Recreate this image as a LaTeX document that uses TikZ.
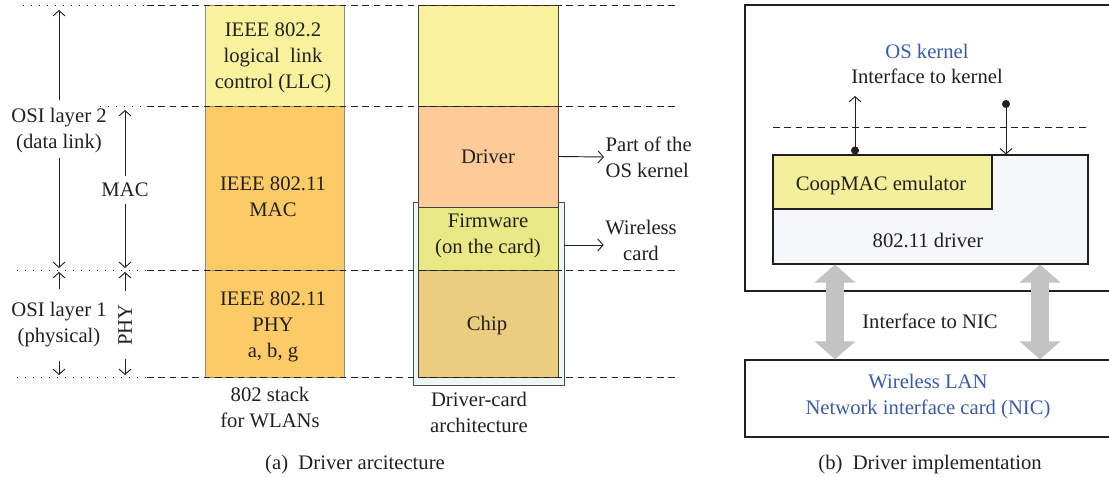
\documentclass[tikz,border=0pt]{standalone}
\usepackage{fontspec}
\setmainfont{Liberation Serif}
\usetikzlibrary{arrows.meta}
\definecolor{ink}{HTML}{231F20}
\definecolor{llcfill}{HTML}{F7F29B}
\definecolor{macfill}{HTML}{FDCB66}
\definecolor{drvpeach}{HTML}{FDCA98}
\definecolor{fwfill}{HTML}{E8E985}
\definecolor{chipfill}{HTML}{EBCD80}
\definecolor{cardfill}{HTML}{EEF5F6}
\definecolor{coopfill}{HTML}{F3EF9B}
\definecolor{drvfill}{HTML}{F6F7FA}
\definecolor{nicarrow}{HTML}{C3C3C3}
\definecolor{hiblue}{HTML}{3B5BA9}
\begin{document}
\begin{tikzpicture}[x=0.75pt,y=-0.75pt,
  every node/.style={font=\fontsize{15.5}{19.5}\selectfont, text=ink, align=center},
  % box size given in pixels: size={width}{height}
  size/.style 2 args={minimum width=#1*0.75pt, minimum height=#2*0.75pt, inner sep=0pt},
  stackbox/.style={draw=black!45, line width=0.6pt},
  colbox/.style={draw=black!75, line width=0.6pt},
  panel/.style={draw=ink, line width=1pt},
  dotline/.style={ink, line width=0.7pt, dash pattern=on 0.7pt off 5.3pt},
  dashline/.style={ink, line width=0.7pt, dash pattern=on 5pt off 3.5pt},
  arr/.style={ink, line width=0.7pt, -{Straight Barb[length=4pt,width=9pt]}},
  dotarr/.style={ink, line width=0.7pt, {Circle[length=6pt]}-{Straight Barb[length=4pt,width=9pt]}},
  nicarr/.style={nicarrow, line width=13.5pt,
    {Triangle[length=13.5pt,width=30pt]}-{Triangle[length=13.5pt,width=30pt]}},
  label/.style={inner sep=1pt}]
\useasboundingbox (0,0) rectangle (1109,477);
\clip (0,0) rectangle (1109,477);

% ---------- (a) 802 stack for WLANs ----------
\node[stackbox, fill=llcfill, size={139}{101}] (llc) at (274.5,55.5) {};
\node[stackbox, fill=macfill, size={139}{164}] (mac) at (274.5,188) {};
\node[stackbox, fill=macfill, size={139}{107}] (phy) at (274.5,323.5) {};
\node[label] (llctext) at (273,58) {IEEE 802.2\\logical\ \ link\\control (LLC)};
\node[label] (mactext) at (273,197) {IEEE 802.11\\MAC};
\node[label] (phytext) at (273,327) {IEEE 802.11\\PHY\\a, b, g};

% ---------- (a) driver-card architecture ----------
\node[draw=black!70, line width=0.7pt, fill=cardfill, size={151}{183}] (card) at (488.5,293.5) {};
\node[colbox, fill=llcfill, size={140}{101}] (top) at (488,55.5) {};
\node[colbox, fill=drvpeach, size={140}{101}] (driver) at (488,156.5) {};
\node[colbox, fill=fwfill, size={140}{63}] (fw) at (488,238.5) {};
\node[colbox, fill=chipfill, size={140}{107}] (chip) at (488,323.5) {};
\node[label] (drivertext) at (488,157) {Driver};
\node[label] (fwtext) at (488,236) {Firmware\\(on the card)};
\node[label] (chiptext) at (487,326) {Chip};

% layer boundaries
\draw[dotline] (23,5) -- (147,5);      \draw[dashline] (147,5) -- (677,5);
\draw[dotline] (100,106) -- (147,106); \draw[dashline] (147,106) -- (677,106);
\draw[dotline] (17,270) -- (147,270);  \draw[dashline] (147,270) -- (677,270);
\draw[dotline] (17,377) -- (147,377);  \draw[dashline] (147,377) -- (677,377);

% OSI layer spans
\node[label] (osi2) at (59,131) {OSI layer 2\\(data link)};
\node[label] (osi1) at (59,325) {OSI layer 1\\(physical)};
\node[label] (macl) at (125,190) {MAC};
\node[label, rotate=90] (phyl) at (125,325) {PHY};
\coordinate (o2t) at (59,10);
\coordinate (o2b) at (59,268);
\coordinate (o1t) at (59,272);
\coordinate (o1b) at (59,375);
\coordinate (mt) at (125,110);
\coordinate (mb) at (125,268);
\coordinate (pt) at (125,272);
\coordinate (pb) at (125,375);
\draw[arr] ([yshift=5pt]osi2.north) -- (o2t);
\draw[arr] ([yshift=-2pt]osi2.south) -- (o2b);
\draw[arr] ([yshift=9pt]osi1.north) -- (o1t);
\draw[arr] ([yshift=-9pt]osi1.south) -- (o1b);
\draw[arr] ([yshift=4pt]macl.north) -- (mt);
\draw[arr] ([yshift=-4pt]macl.south) -- (mb);
\draw[arr] ([yshift=9pt]phyl.east) -- (pt);
\draw[arr] ([yshift=-9pt]phyl.west) -- (pb);

% side notes
\node[label, anchor=west, align=left] (kernnote) at (604,157) {Part of the\\OS kernel};
\node[label] (cardnote) at (641,240) {Wireless\\card};
\draw[arr] (driver.east) -- (kernnote.west);
\draw[arr] (card.east |- 0,245) -- (cardnote.west |- 0,245);

% captions
\node[label] (cap1) at (270,407) {802 stack\\for WLANs};
\node[label] (cap2) at (479,412) {Driver-card\\architecture};
\node[label] (capa) at (355,465) {(a)\ \ Driver arcitecture};

% ---------- (b) driver implementation ----------
\node[panel, size={385}{286}] (kernel) at (937.5,148) {};
\node[panel, size={385}{77}] (nic) at (937.5,398.5) {};
\node[label, text=hiblue] (nictext) at (928,397) {Wireless LAN\\Network interface card (NIC)};
\node[draw=ink, line width=0.8pt, fill=drvfill, size={315}{109}] (drv) at (930.5,209.5) {};
\node[draw=ink, line width=0.8pt, fill=coopfill, size={219}{54}] (coop) at (882.5,182) {};
\node[label] (cooptext) at (881,186) {CoopMAC emulator};
\node[label] (drvtext) at (928,240) {802.11 driver};
\draw[dashline] (773,127) -- (1088,127);
\node[label, text=hiblue] (ostext) at (927,51) {OS kernel};
\node[label] (iftext) at (927,76) {Interface to kernel};
\coordinate (kout) at (855,96);
\coordinate (kin) at (1006,100);
\draw[dotarr] (coop.north -| kout) -- (kout);
\draw[dotarr] (kin) -- (drv.north -| kin);
\coordinate (g1) at (835,0);
\coordinate (g2) at (1040,0);
\draw[nicarr] (drv.south -| g1) -- (nic.north -| g1);
\draw[nicarr] (drv.south -| g2) -- (nic.north -| g2);
\node[label] (niciface) at (930,321) {Interface to NIC};
\node[label] (capb) at (930,465) {(b)\ \ Driver implementation};
\end{tikzpicture}
\end{document}
